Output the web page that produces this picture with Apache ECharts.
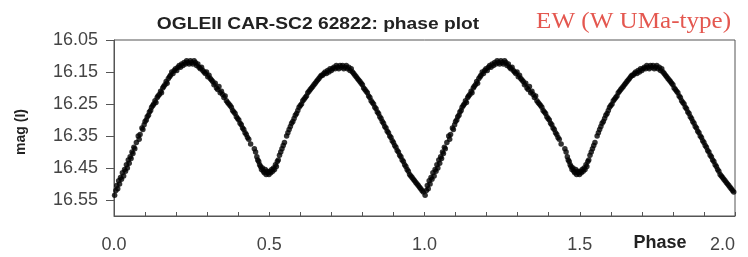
<!DOCTYPE html>
<html>
<head>
<meta charset="utf-8">
<script src="https://cdn.jsdelivr.net/npm/echarts@6/dist/echarts.min.js"></script>
<style>html,body{margin:0;padding:0;background:#fff;}#c{width:748px;height:257px;}</style>
</head>
<body>
<div id="c"></div>
<script>
// Folded light curve (one cycle); the phase plot repeats it over 0..2
const phase = [0.002,0.006,0.009,0.012,0.015,0.018,0.021,0.024,0.027,0.031,0.034,0.037,0.040,0.043,0.046,0.049,0.052,0.055,0.058,0.061,0.064,0.067,0.072,0.078,0.081,0.084,0.090,0.093,0.097,0.100,0.104,0.107,0.111,0.114,0.118,0.121,0.125,0.128,0.132,0.135,0.139,0.142,0.146,0.150,0.153,0.157,0.160,0.164,0.168,0.171,0.175,0.179,0.182,0.186,0.190,0.194,0.198,0.202,0.206,0.210,0.214,0.218,0.222,0.226,0.230,0.234,0.238,0.242,0.246,0.250,0.254,0.258,0.262,0.266,0.270,0.274,0.278,0.282,0.286,0.290,0.294,0.298,0.302,0.306,0.310,0.314,0.318,0.322,0.326,0.330,0.334,0.338,0.342,0.346,0.350,0.354,0.358,0.362,0.366,0.370,0.374,0.378,0.382,0.386,0.390,0.394,0.398,0.402,0.406,0.410,0.414,0.418,0.422,0.426,0.430,0.434,0.440,0.452,0.456,0.460,0.463,0.466,0.469,0.472,0.475,0.478,0.481,0.484,0.487,0.490,0.493,0.496,0.499,0.502,0.505,0.508,0.511,0.514,0.517,0.520,0.523,0.526,0.529,0.533,0.537,0.541,0.545,0.549,0.556,0.560,0.564,0.568,0.572,0.576,0.580,0.584,0.588,0.592,0.596,0.600,0.604,0.608,0.612,0.616,0.620,0.624,0.628,0.632,0.636,0.640,0.644,0.648,0.652,0.656,0.660,0.664,0.668,0.672,0.676,0.680,0.684,0.688,0.692,0.696,0.700,0.704,0.708,0.712,0.716,0.720,0.724,0.728,0.732,0.736,0.740,0.744,0.748,0.752,0.756,0.760,0.764,0.768,0.772,0.776,0.780,0.784,0.788,0.792,0.796,0.800,0.804,0.808,0.812,0.816,0.820,0.824,0.828,0.832,0.836,0.840,0.844,0.848,0.852,0.856,0.860,0.864,0.868,0.872,0.876,0.880,0.884,0.888,0.892,0.896,0.900,0.904,0.908,0.912,0.916,0.920,0.924,0.928,0.932,0.936,0.940,0.944,0.948,0.952,0.956,0.960,0.964,0.968,0.972,0.976,0.980,0.984,0.988,0.992,0.996];
const mag = [16.535,16.52,16.505,16.515,16.49,16.50,16.48,16.485,16.465,16.475,16.455,16.46,16.44,16.45,16.425,16.435,16.415,16.42,16.40,16.405,16.385,16.39,16.37,16.35,16.36,16.345,16.325,16.33,16.315,16.305,16.30,16.29,16.285,16.275,16.27,16.26,16.255,16.25,16.24,16.245,16.23,16.225,16.22,16.21,16.215,16.20,16.195,16.19,16.18,16.185,16.17,16.165,16.16,16.15,16.155,16.145,16.14,16.145,16.135,16.13,16.135,16.125,16.13,16.12,16.125,16.115,16.12,16.125,16.115,16.12,16.125,16.115,16.12,16.13,16.125,16.135,16.14,16.135,16.145,16.15,16.155,16.15,16.165,16.16,16.17,16.175,16.18,16.19,16.185,16.20,16.205,16.195,16.215,16.21,16.22,16.23,16.225,16.24,16.245,16.25,16.255,16.26,16.27,16.275,16.28,16.29,16.295,16.30,16.31,16.315,16.325,16.33,16.34,16.345,16.355,16.36,16.375,16.39,16.40,16.415,16.425,16.43,16.44,16.445,16.455,16.45,16.46,16.465,16.455,16.47,16.46,16.465,16.47,16.46,16.465,16.455,16.46,16.45,16.455,16.44,16.445,16.43,16.425,16.41,16.40,16.39,16.38,16.37,16.35,16.34,16.33,16.32,16.31,16.305,16.295,16.285,16.28,16.27,16.26,16.255,16.25,16.24,16.235,16.23,16.225,16.215,16.21,16.205,16.20,16.195,16.19,16.185,16.18,16.175,16.17,16.165,16.16,16.16,16.155,16.15,16.155,16.145,16.15,16.14,16.145,16.14,16.135,16.14,16.13,16.135,16.14,16.13,16.135,16.13,16.14,16.135,16.13,16.14,16.135,16.145,16.14,16.15,16.155,16.16,16.165,16.17,16.175,16.18,16.185,16.19,16.20,16.205,16.21,16.215,16.225,16.23,16.24,16.245,16.25,16.26,16.265,16.275,16.28,16.29,16.295,16.305,16.31,16.32,16.325,16.335,16.34,16.35,16.355,16.365,16.37,16.38,16.385,16.395,16.40,16.41,16.415,16.425,16.43,16.44,16.445,16.455,16.46,16.47,16.475,16.48,16.485,16.49,16.495,16.50,16.505,16.51,16.515,16.52,16.525];
const yTickLabels = [16.05, 16.15, 16.25, 16.35, 16.45, 16.55];
const xTickLabels = [0.0, 0.5, 1.0, 1.5, 2.0];
const cycles = [0, 1];

const points = [];
cycles.forEach(c => phase.forEach((p, i) => points.push([p + c, mag[i]])));

const chart = echarts.init(document.getElementById('c'));
chart.setOption({
  animation: false,
  backgroundColor: '#fff',
  grid: { left: 114, right: 13, top: 40, bottom: 41, show: true, borderColor: '#555', borderWidth: 1 },
  xAxis: {
    type: 'value', min: 0, max: 2, interval: 0.1,
    axisLine: { show: true, lineStyle: { color: '#555', width: 1 } },
    axisTick: { show: true, inside: true, length: 4, lineStyle: { color: '#555' } },
    axisLabel: {
      margin: 20, fontSize: 18, color: '#444', fontFamily: 'Liberation Sans, Arial, sans-serif',
      alignMaxLabel: 'right',
      customValues: xTickLabels,
      formatter: v => v.toFixed(1)
    },
    splitLine: { show: false }
  },
  yAxis: {
    type: 'value', inverse: true, min: 16.05, max: 16.6,
    axisLine: { show: true, lineStyle: { color: '#555', width: 1 } },
    axisTick: { show: true, inside: false, length: 8, customValues: yTickLabels, lineStyle: { color: '#555' } },
    axisLabel: {
      margin: 16, fontSize: 18, color: '#444', fontFamily: 'Liberation Sans, Arial, sans-serif',
      customValues: yTickLabels,
      formatter: v => v.toFixed(2)
    },
    splitLine: { show: false }
  },
  graphic: [
    { type: 'text', x: 318, y: 24, scaleX: 1.13, style: { text: 'OGLEII CAR-SC2 62822: phase plot', x: 0, y: 0, align: 'center', verticalAlign: 'middle', font: 'bold 17px "Liberation Sans", Arial, sans-serif', fill: '#222' } },
    { type: 'text', x: 731, y: 22, scaleX: 1.09, style: { text: 'EW (W UMa-type)', x: 0, y: 0, align: 'right', verticalAlign: 'middle', font: '23px "Liberation Serif", "Times New Roman", serif', fill: '#e4574f' } },
    { type: 'text', style: { text: 'Phase', x: 660, y: 243, align: 'center', verticalAlign: 'middle', font: 'bold 18px "Liberation Sans", Arial, sans-serif', fill: '#222' } },
    { type: 'text', rotation: Math.PI / 2, x: 21, y: 132, style: { text: 'mag (I)', x: 0, y: 0, align: 'center', verticalAlign: 'middle', font: 'bold 14px "Liberation Sans", Arial, sans-serif', fill: '#222' } }
  ],
  series: [{
    type: 'scatter',
    data: points,
    symbol: 'circle',
    symbolSize: 5.5,
    itemStyle: { color: '#000' }
  }]
});
</script>
</body>
</html>
